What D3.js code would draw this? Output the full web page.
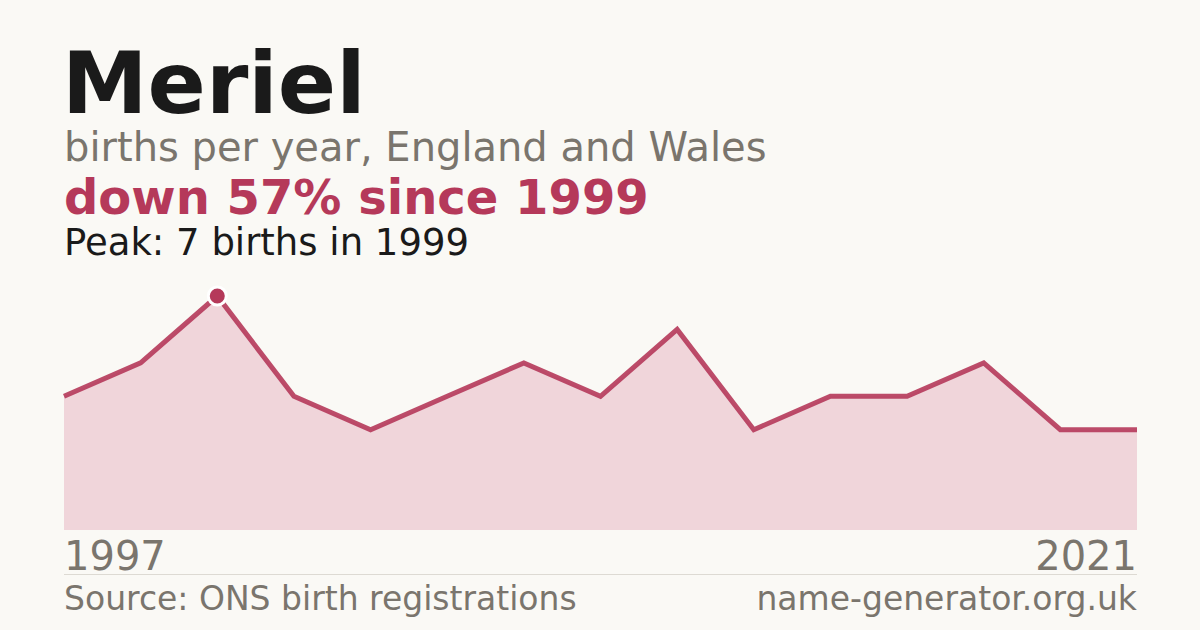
<!DOCTYPE html>
<html>
<head>
<meta charset="utf-8">
<script src="https://cdn.jsdelivr.net/npm/d3@7"></script>
<style>
  body { margin: 0; background: #faf9f5; }
  svg { display: block; font-family: "DejaVu Sans", sans-serif; }
</style>
</head>
<body>
<svg id="chart" width="1200" height="630"></svg>
<script>
// births per year for the name
const years = [1997, 1998, 1999, 2000, 2001, 2003, 2005, 2007, 2009, 2011, 2013, 2015, 2017, 2019, 2021]
const births = [4, 5, 7, 4, 3, 4, 5, 4, 6, 3, 4, 4, 5, 3, 3]
const peakYear = 1999

const red = '#b5395a'
const grey = '#7a756d'

const svg = d3.select('#chart')
svg.append('rect').attr('width', 1200).attr('height', 630).attr('fill', '#faf9f5')

const data = years.map((y, i) => ({ year: y, value: births[i] }))

const x = d3.scalePoint()
  .domain(years)
  .range([64, 1137])

const y = d3.scaleLinear()
  .domain([0, d3.max(births)])
  .range([530, 296])

// header text
svg.append('text')
  .text('Meriel')
  .attr('x', 62).attr('y', 113)
  .attr('font-size', 86).attr('font-weight', 'bold')
  .attr('fill', '#1a1a1a')

svg.append('text')
  .text('births per year, England and Wales')
  .attr('x', 64).attr('y', 161)
  .attr('font-size', 40)
  .attr('fill', grey)

const peak = data.find(d => d.year === peakYear)
const last = data[data.length - 1]
const change = Math.round((1 - last.value / peak.value) * 100)

svg.append('text')
  .text('down ' + change + '% since ' + peakYear)
  .attr('x', 64).attr('y', 214)
  .attr('font-size', 48).attr('font-weight', 'bold')
  .attr('fill', red)

svg.append('text')
  .text('Peak: ' + peak.value + ' births in ' + peakYear)
  .attr('x', 64).attr('y', 255)
  .attr('font-size', 37)
  .attr('fill', '#1a1a1a')

// area + line
const area = d3.area()
  .x(d => x(d.year))
  .y0(y(0))
  .y1(d => y(d.value))

const line = d3.line()
  .x(d => x(d.year))
  .y(d => y(d.value))

svg.append('path')
  .datum(data)
  .attr('d', area)
  .attr('fill', '#f0d5da')

svg.append('path')
  .datum(data)
  .attr('d', line)
  .attr('fill', 'none')
  .attr('stroke', red)
  .attr('stroke-opacity', 0.9)
  .attr('stroke-width', 5)

svg.append('circle')
  .attr('cx', x(peak.year))
  .attr('cy', y(peak.value))
  .attr('r', 9)
  .attr('fill', red)
  .attr('stroke', '#fff')
  .attr('stroke-width', 3)

// x labels
svg.append('text')
  .text(years[0])
  .attr('x', 64).attr('y', 570)
  .attr('font-size', 40)
  .attr('fill', grey)

svg.append('text')
  .text(years[years.length - 1])
  .attr('x', 1137).attr('y', 570)
  .attr('text-anchor', 'end')
  .attr('font-size', 40)
  .attr('fill', grey)

svg.append('line')
  .attr('x1', 64).attr('x2', 1137)
  .attr('y1', 574.5).attr('y2', 574.5)
  .attr('stroke', '#dddad3')
  .attr('stroke-width', 1)

// footer
svg.append('text')
  .text('Source: ONS birth registrations')
  .attr('x', 64).attr('y', 610)
  .attr('font-size', 33)
  .attr('fill', grey)

svg.append('text')
  .text('name-generator.org.uk')
  .attr('x', 1137).attr('y', 610)
  .attr('text-anchor', 'end')
  .attr('font-size', 33)
  .attr('fill', grey)
</script>
</body>
</html>
